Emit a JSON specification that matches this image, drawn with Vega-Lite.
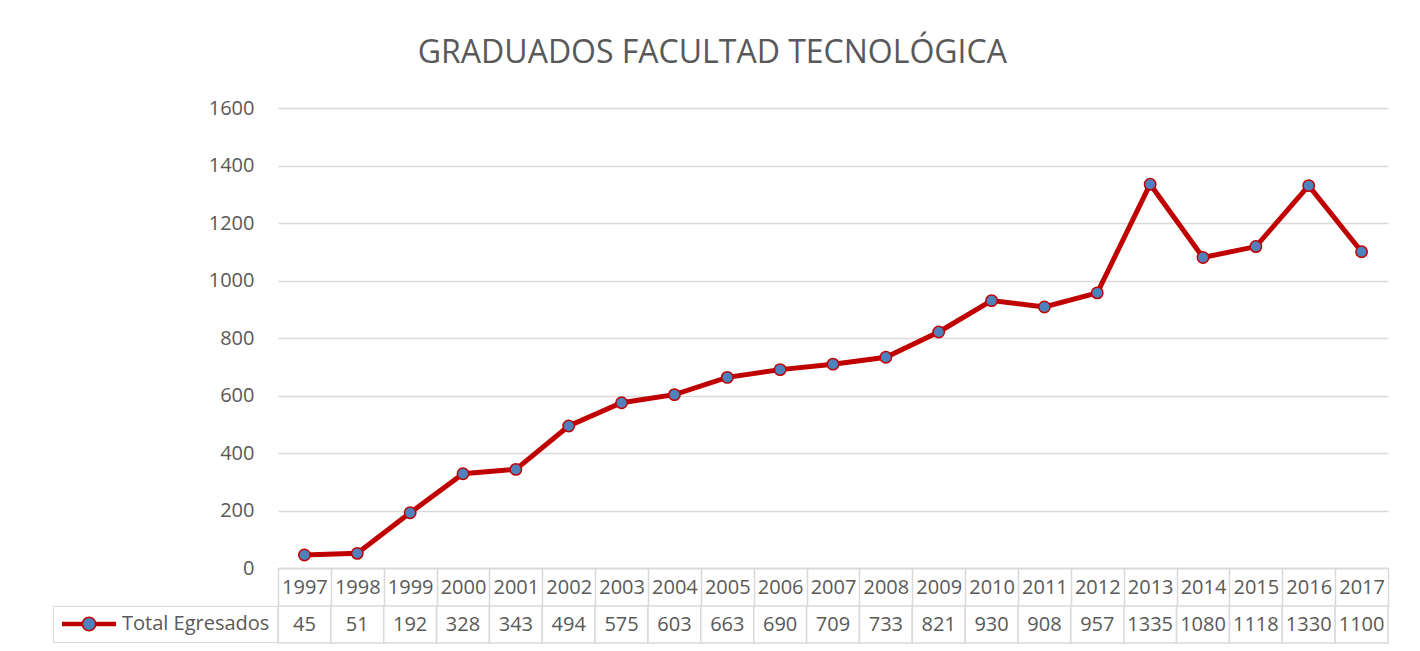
{
  "$schema": "https://vega.github.io/schema/vega-lite/v6.json",
  "background": "white",
  "padding": {"left": 52, "top": 37, "right": 20, "bottom": 6},
  "title": {
    "text": "GRADUADOS FACULTAD TECNOLÓGICA",
    "font": "Open Sans",
    "fontSize": 32,
    "fontWeight": "normal",
    "color": "#595959",
    "anchor": "middle",
    "offset": 28,
    "dx": -8
  },
  "bounds": "flush",
  "spacing": 38,
  "resolve": {"scale": {"stroke": "independent"}, "legend": {"stroke": "independent"}},
  "config": {"view": {"stroke": null}, "font": "Open Sans"},
  "data": {
    "values": [
      {"year": "1997", "count": 45},
      {"year": "1998", "count": 51},
      {"year": "1999", "count": 192},
      {"year": "2000", "count": 328},
      {"year": "2001", "count": 343},
      {"year": "2002", "count": 494},
      {"year": "2003", "count": 575},
      {"year": "2004", "count": 603},
      {"year": "2005", "count": 663},
      {"year": "2006", "count": 690},
      {"year": "2007", "count": 709},
      {"year": "2008", "count": 733},
      {"year": "2009", "count": 821},
      {"year": "2010", "count": 930},
      {"year": "2011", "count": 908},
      {"year": "2012", "count": 957},
      {"year": "2013", "count": 1335},
      {"year": "2014", "count": 1080},
      {"year": "2015", "count": 1118},
      {"year": "2016", "count": 1330},
      {"year": "2017", "count": 1100}
    ]
  },
  "vconcat": [
    {
      "width": 1110,
      "height": 460,
      "encoding": {
        "x": {
          "field": "year",
          "type": "ordinal",
          "scale": {"type": "band", "paddingInner": 0, "paddingOuter": 0},
          "axis": {
            "title": null,
            "labelAngle": 0,
            "domain": true,
            "domainColor": "#d9d9d9",
            "domainWidth": 1.5,
            "ticks": true,
            "tickBand": "extent",
            "tickSize": 38,
            "tickColor": "#d9d9d9",
            "tickWidth": 1.5,
            "labelPadding": -19,
            "labelBaseline": "middle",
            "labelFontSize": 20,
            "labelFont": "Open Sans",
            "labelColor": "#595959",
            "labelOverlap": false,
            "grid": false
          }
        },
        "y": {
          "field": "count",
          "type": "quantitative",
          "scale": {"domain": [0, 1600], "nice": false},
          "axis": {
            "title": null,
            "values": [0, 200, 400, 600, 800, 1000, 1200, 1400, 1600],
            "format": "d",
            "domain": false,
            "ticks": false,
            "labelPadding": 24,
            "labelFontSize": 20,
            "labelFont": "Open Sans",
            "labelColor": "#595959",
            "grid": true,
            "gridColor": "#d9d9d9",
            "gridWidth": 1.5,
            "minExtent": 226,
            "maxExtent": 226
          }
        }
      },
      "layer": [
        {"mark": {"type": "line", "color": "#C00000", "strokeWidth": 5}},
        {
          "mark": {
            "type": "point",
            "filled": true,
            "fill": "#4F81BD",
            "stroke": "#C00000",
            "strokeWidth": 1.5,
            "size": 130,
            "opacity": 1
          }
        }
      ]
    },
    {
      "width": 1110,
      "height": 37,
      "encoding": {
        "x": {
          "field": "year",
          "type": "ordinal",
          "scale": {"type": "band", "paddingInner": 0, "paddingOuter": 0},
          "axis": null
        }
      },
      "layer": [
        {"mark": {"type": "rect", "fill": "white", "stroke": "#d9d9d9", "strokeWidth": 1.5}},
        {
          "mark": {"type": "text", "fontSize": 20, "font": "Open Sans", "fill": "#595959"},
          "encoding": {"text": {"field": "count", "type": "nominal"}}
        },
        {
          "mark": {"type": "point", "filled": true, "fill": "#4F81BD", "strokeWidth": 1.5, "opacity": 0},
          "encoding": {
            "stroke": {
              "datum": "Total Egresados",
              "type": "nominal",
              "scale": {"range": ["#C00000"]},
              "legend": {
                "orient": "left",
                "title": null,
                "offset": 0,
                "padding": 8,
                "strokeColor": "#d9d9d9",
                "symbolType": "M0.25,0A0.25,0.25,0,1,1,-0.25,0A0.25,0.25,0,1,1,0.25,0Z M-1,-0.06H-0.25 M-1,-0.03H-0.25 M-1,0H-0.25 M-1,0.03H-0.25 M-1,0.06H-0.25 M0.25,-0.06H1 M0.25,-0.03H1 M0.25,0H1 M0.25,0.03H1 M0.25,0.06H1",
                "symbolSize": 2916,
                "symbolStrokeWidth": 1.5,
                "symbolFillColor": "#4F81BD",
                "symbolStrokeColor": "#C00000",
                "symbolOpacity": 1,
                "clipHeight": 20,
                "labelFontSize": 20,
                "labelFont": "Open Sans",
                "labelColor": "#595959",
                "labelOffset": 5
              }
            }
          }
        }
      ]
    }
  ]
}
